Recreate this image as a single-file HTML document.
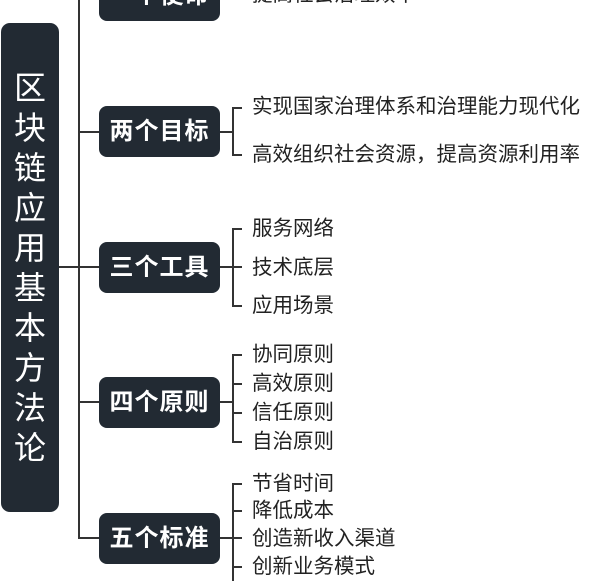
<!DOCTYPE html>
<html><head><meta charset="utf-8"><style>
body{margin:0;width:608px;height:581px;overflow:hidden;background:#fff;position:relative;font-family:"Liberation Sans","Noto Sans CJK SC",sans-serif;}
.a{position:absolute}
.root{left:1px;top:23px;width:58px;height:489px;background:#222a33;border-radius:9px;color:#fff;font-size:32px;text-align:center;}
.root div{position:absolute;left:0;width:58px;line-height:40px;}
.box{position:absolute;left:99px;width:121px;height:51px;background:#222a33;border-radius:8px;color:#fff;font-weight:bold;font-size:24px;line-height:51px;text-align:center;letter-spacing:1px;}
.l{position:absolute;background:#333;}
.t{position:absolute;left:252px;font-size:20.5px;color:#222;line-height:24px;white-space:nowrap;}
</style></head><body>
<div class="l" style="left:78px;top:0;width:2px;height:539px"></div>
<div class="l" style="left:59px;top:266px;width:40px;height:2px"></div>
<div class="l" style="left:78px;top:131px;width:21px;height:2px"></div>
<div class="l" style="left:78px;top:401px;width:21px;height:2px"></div>
<div class="l" style="left:78px;top:537px;width:21px;height:2px"></div>

<div class="a root">
<div style="top:45px">区</div><div style="top:85px">块</div><div style="top:125px">链</div><div style="top:165px">应</div><div style="top:205px">用</div><div style="top:245px">基</div><div style="top:285px">本</div><div style="top:325px">方</div><div style="top:365px">法</div><div style="top:405px">论</div>
</div>

<div class="box" style="top:-30px">一个使命</div>
<div class="box" style="top:106px">两个目标</div>
<div class="box" style="top:242px">三个工具</div>
<div class="box" style="top:377px">四个原则</div>
<div class="box" style="top:513px">五个标准</div>

<div class="t" style="top:-17px">提高社会治理效率</div>

<div class="l" style="left:220px;top:131px;width:13px;height:2px"></div>
<div class="l" style="left:232px;top:107px;width:2px;height:49px"></div>
<div class="l" style="left:232px;top:107px;width:10px;height:2px"></div>
<div class="l" style="left:232px;top:154px;width:10px;height:2px"></div>
<div class="t" style="top:95px">实现国家治理体系和治理能力现代化</div>
<div class="t" style="top:143px">高效组织社会资源，提高资源利用率</div>

<div class="l" style="left:220px;top:266px;width:22px;height:2px"></div>
<div class="l" style="left:232px;top:228px;width:2px;height:79px"></div>
<div class="l" style="left:232px;top:228px;width:10px;height:2px"></div>
<div class="l" style="left:232px;top:305px;width:10px;height:2px"></div>
<div class="t" style="top:217px">服务网络</div>
<div class="t" style="top:256px">技术底层</div>
<div class="t" style="top:294px">应用场景</div>

<div class="l" style="left:220px;top:401px;width:13px;height:2px"></div>
<div class="l" style="left:232px;top:354px;width:2px;height:89px"></div>
<div class="l" style="left:232px;top:354px;width:10px;height:2px"></div>
<div class="l" style="left:232px;top:383px;width:10px;height:2px"></div>
<div class="l" style="left:232px;top:412px;width:10px;height:2px"></div>
<div class="l" style="left:232px;top:441px;width:10px;height:2px"></div>
<div class="t" style="top:343px">协同原则</div>
<div class="t" style="top:372px">高效原则</div>
<div class="t" style="top:401px">信任原则</div>
<div class="t" style="top:430px">自治原则</div>

<div class="l" style="left:220px;top:537px;width:22px;height:2px"></div>
<div class="l" style="left:232px;top:483px;width:2px;height:98px"></div>
<div class="l" style="left:232px;top:483px;width:10px;height:2px"></div>
<div class="l" style="left:232px;top:510px;width:10px;height:2px"></div>
<div class="l" style="left:232px;top:566px;width:10px;height:2px"></div>
<div class="t" style="top:472px">节省时间</div>
<div class="t" style="top:499px">降低成本</div>
<div class="t" style="top:527px">创造新收入渠道</div>
<div class="t" style="top:555px">创新业务模式</div>
</body></html>
